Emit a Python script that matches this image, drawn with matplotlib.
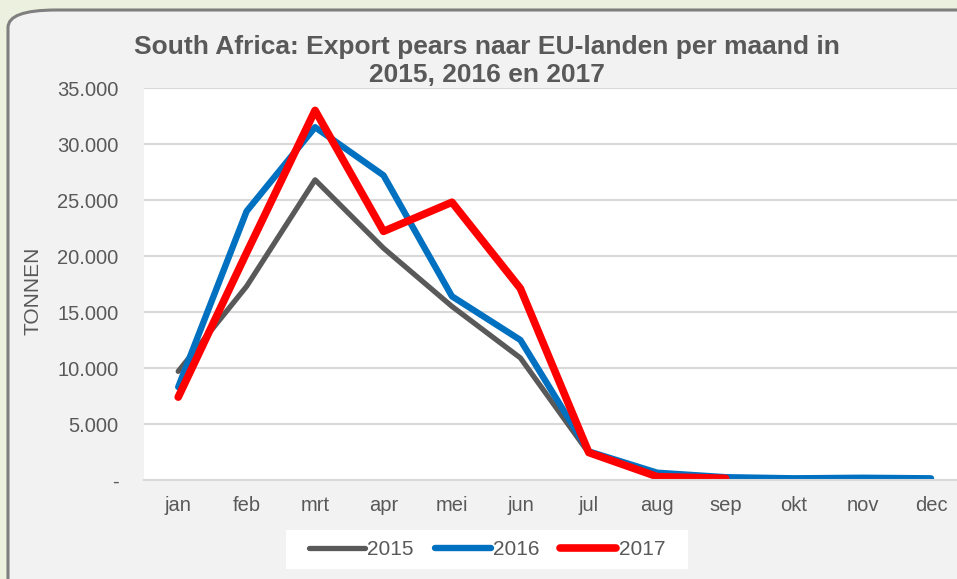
import numpy as np
import matplotlib.pyplot as plt
from matplotlib.patches import FancyBboxPatch, Rectangle
from matplotlib.ticker import FuncFormatter

months=["jan", "feb", "mrt", "apr", "mei", "jun", "jul", "aug", "sep", "okt", "nov", "dec"]
t2015=[9700, 17300, 26800, 20700, 15500, 10900, 2400, 400, 100, 50, 100, 50]
t2016=[8300, 24000, 31500, 27200, 16400, 12500, 2550, 650, 250, 150, 200, 150]
t2017=[7400, 20300, 33000, 22200, 24800, 17100, 2450, 300, 150]

GREY="#595959"

def thousands(v, pos):
	if v==0:
		return "-"
	return f"{int(v):,}".replace(",", ".")

def main():
	plt.rcParams["font.family"]=["Liberation Sans", "DejaVu Sans"]
	fig=plt.figure(figsize=(9.57, 5.79), dpi=100)
	fig.patch.set_facecolor("#EBF1DE")

	# paneel met afgeronde hoeken
	panel=FancyBboxPatch((8/957, -0.05), 1.2, 1-10/579+0.05, boxstyle="round,pad=0,rounding_size=0.05",
		transform=fig.transFigure, facecolor="#F2F2F2", edgecolor="#7F7F7F", linewidth=2.2, mutation_aspect=579/957, zorder=-10)
	fig.add_artist(panel)
	# witte achtergrond van de legenda
	fig.add_artist(Rectangle((286/957, 1-569/579), 402/957, 39/579, transform=fig.transFigure,
		facecolor="white", edgecolor="none", zorder=-5))

	ax=fig.add_axes([144/957, 1-480/579, 1-144/957, (480-88)/579])
	ax.set_facecolor("white")
	x=np.arange(len(months))
	ax.plot(x, t2015, color=GREY, lw=3.8, solid_capstyle="round", solid_joinstyle="round", label="2015")
	ax.plot(x, t2016, color="#0070C0", lw=4.6, solid_capstyle="round", solid_joinstyle="round", label="2016")
	ax.plot(x[:len(t2017)], t2017, color="#FF0000", lw=5.5, solid_capstyle="round", solid_joinstyle="round", label="2017")

	ax.set_xlim(-0.5, 11+26/68.4)
	ax.set_ylim(0, 35000)
	ax.set_yticks(np.arange(0, 35001, 5000))
	ax.yaxis.set_major_formatter(FuncFormatter(thousands))
	ax.set_xticks(x)
	ax.set_xticklabels(months)
	ax.grid(axis="y", color="#D9D9D9", lw=1.5)
	ax.set_axisbelow(True)
	for s in ["top", "right", "left"]:
		ax.spines[s].set_visible(False)
	ax.spines["bottom"].set_color("#D9D9D9")
	ax.spines["bottom"].set_linewidth(1.5)
	ax.tick_params(axis="y", length=0, pad=18.5, labelsize=14.5, labelcolor=GREY)
	ax.tick_params(axis="x", length=0, pad=11.5, labelsize=14.5, labelcolor=GREY)

	fig.text(487/957, 1-61/579, "South Africa: Export pears naar EU-landen per maand in\n2015, 2016 en 2017",
		ha="center", va="center", fontsize=19, fontweight="bold", color=GREY, linespacing=1.25)
	fig.text(33/957, 1-291/579, "TONNEN", rotation=90, ha="center", va="center", fontsize=15, color=GREY)

	leg=fig.legend(loc="center", bbox_to_anchor=(487/957, 1-549.5/579), ncol=3, fontsize=15, frameon=False,
		handlelength=2.7, handletextpad=0.1, columnspacing=1.0)
	for t in leg.get_texts():
		t.set_color(GREY)
	for l in leg.get_lines():
		l.set_solid_capstyle("round")

	plt.savefig("out.png", dpi=100, facecolor=fig.get_facecolor())
	plt.close(fig)

if __name__=="__main__":
	main()
